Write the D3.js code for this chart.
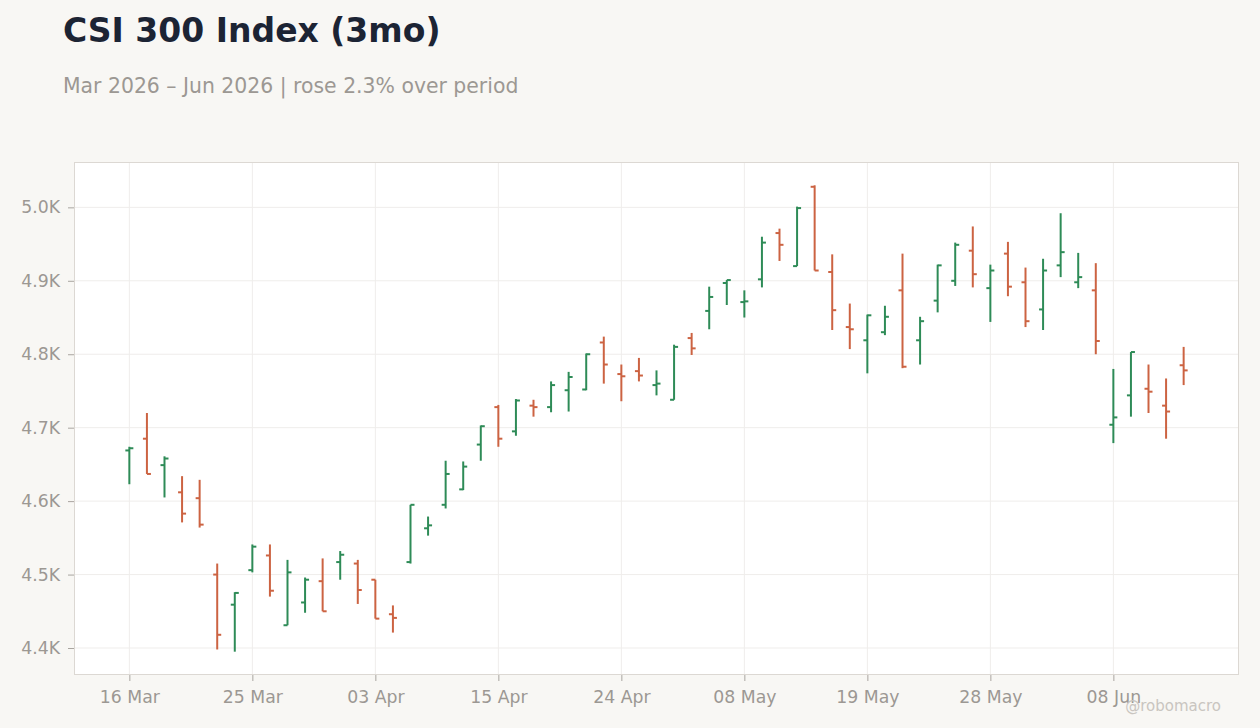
<!DOCTYPE html>
<html><head><meta charset="utf-8">
<script src="https://cdn.jsdelivr.net/npm/d3@7"></script>
<style>
html,body{margin:0;padding:0;background:#f8f7f4;}
svg{display:block;font-family:"DejaVu Sans",sans-serif;}
</style></head>
<body>
<svg id="chart" width="1260" height="728"></svg>
<script>
const dates = ["2026-03-16","2026-03-17","2026-03-18","2026-03-19","2026-03-20","2026-03-23","2026-03-24","2026-03-25","2026-03-26","2026-03-27","2026-03-30","2026-03-31","2026-04-01","2026-04-02","2026-04-03","2026-04-07","2026-04-08","2026-04-09","2026-04-10","2026-04-13","2026-04-14","2026-04-15","2026-04-16","2026-04-17","2026-04-20","2026-04-21","2026-04-22","2026-04-23","2026-04-24","2026-04-27","2026-04-28","2026-04-29","2026-04-30","2026-05-06","2026-05-07","2026-05-08","2026-05-11","2026-05-12","2026-05-13","2026-05-14","2026-05-15","2026-05-18","2026-05-19","2026-05-20","2026-05-21","2026-05-22","2026-05-25","2026-05-26","2026-05-27","2026-05-28","2026-05-29","2026-06-01","2026-06-02","2026-06-03","2026-06-04","2026-06-05","2026-06-08","2026-06-09","2026-06-10","2026-06-11","2026-06-12"];
const openVals  = [4669,4685,4649,4612,4604,4500,4459,4506,4526,4431,4462,4491,4517,4515,4493,4446,4517,4563,4595,4616,4677,4728,4695,4730,4728,4751,4752,4816,4773,4777,4758,4738,4822,4859,4897,4871,4902,4965,4920,5028,4912,4837,4819,4830,4887,4819,4873,4900,4941,4890,4937,4898,4861,4921,4898,4887,4704,4744,4753,4730,4785];
const highVals  = [4674,4720,4661,4634,4629,4515,4476,4541,4541,4520,4496,4522,4532,4520,4493,4458,4595,4579,4655,4654,4703,4731,4739,4738,4763,4776,4801,4824,4786,4795,4778,4813,4829,4892,4901,4887,4960,4971,5001,5030,4936,4869,4854,4866,4937,4851,4922,4952,4974,4922,4953,4918,4930,4992,4938,4924,4780,4803,4786,4767,4810];
const lowVals   = [4623,4637,4605,4571,4564,4398,4395,4503,4470,4431,4448,4450,4493,4460,4440,4421,4515,4553,4590,4615,4655,4674,4689,4715,4721,4722,4751,4760,4736,4763,4744,4738,4799,4834,4867,4850,4891,4927,4920,4914,4833,4807,4774,4826,4781,4786,4857,4893,4891,4844,4879,4837,4833,4905,4890,4800,4679,4715,4720,4685,4758];
const closeVals = [4672,4637,4658,4583,4568,4418,4475,4538,4478,4503,4493,4450,4527,4479,4440,4441,4595,4567,4637,4647,4702,4685,4737,4728,4758,4769,4800,4786,4770,4771,4760,4810,4808,4878,4901,4872,4952,4949,4999,4914,4860,4834,4853,4851,4783,4845,4921,4949,4909,4914,4892,4845,4914,4939,4905,4818,4714,4803,4749,4722,4778];
const yTicks = [4400,4500,4600,4700,4800,4900,5000];
const titleText = "CSI 300 Index (3mo)";
const subtitleText = "Mar 2026 \u2013 Jun 2026 | rose 2.3% over period";
const credit = "@robomacro";

const parse = d3.timeParse("%Y-%m-%d");
const fmt = d3.timeFormat("%d %b");
const data = dates.map((d,i)=>({date:d, o:openVals[i], h:highVals[i], l:lowVals[i], c:closeVals[i]}));

const svg = d3.select("#chart");
const W=1260,H=728;
const m = {left:74, right:1239, top:162, bottom:675};
const UP="#2e8b57", DOWN="#cc6342";

svg.append("rect").attr("width",W).attr("height",H).attr("fill","#f8f7f4");

svg.append("text").attr("x",63).attr("y",42).attr("font-size",33).attr("font-weight","bold")
  .attr("fill","#1c2434").text(titleText);
svg.append("text").attr("x",63).attr("y",93).attr("font-size",20.4).attr("fill","#9c9893").text(subtitleText);

const x = d3.scalePoint().domain(dates).range([m.left,m.right]).padding(3.15);
const minL = d3.min(lowVals), maxH = d3.max(highVals), pad=(maxH-minL)*0.05;
const y = d3.scaleLinear().domain([minL-pad, maxH+pad]).range([m.bottom,m.top]);

svg.append("rect").attr("x",m.left).attr("y",m.top).attr("width",m.right-m.left).attr("height",m.bottom-m.top)
  .attr("fill","#ffffff");

const xTickDates = dates.filter((d,i)=>i%7===0);

const grid = svg.append("g");
grid.selectAll(".gy").data(yTicks).join("line")
  .attr("x1",m.left).attr("x2",m.right).attr("y1",d=>y(d)).attr("y2",d=>y(d))
  .attr("stroke","#efedeb").attr("stroke-width",1);
grid.selectAll(".gx").data(xTickDates).join("line")
  .attr("x1",d=>x(d)).attr("x2",d=>x(d)).attr("y1",m.top).attr("y2",m.bottom)
  .attr("stroke","#efedeb").attr("stroke-width",1);

svg.append("rect").attr("x",m.left+0.5).attr("y",m.top+0.5).attr("width",m.right-m.left-1).attr("height",m.bottom-m.top-1)
  .attr("fill","none").attr("stroke","#dcd8d3").attr("stroke-width",1);

const yAxis = svg.append("g").attr("transform",`translate(${m.left},0)`)
  .call(d3.axisLeft(y).tickValues(yTicks).tickSize(6).tickPadding(8).tickFormat(d=>(d/1000).toFixed(1)+"K"));
const xAxis = svg.append("g").attr("transform",`translate(0,${m.bottom})`)
  .call(d3.axisBottom(x).tickValues(xTickDates).tickSize(6).tickPadding(10).tickFormat(d=>fmt(parse(d))));
[yAxis,xAxis].forEach(a=>{
  a.select(".domain").remove();
  a.selectAll(".tick line").attr("stroke","#a9a5a0");
  a.selectAll(".tick text").attr("fill","#9c9893").attr("font-size",17.3).attr("font-family","DejaVu Sans, sans-serif");
});

const bars = svg.append("g").selectAll("g").data(data).join("g")
  .attr("stroke",d=>d.c>=d.o?UP:DOWN).attr("stroke-width",2);
bars.append("line").attr("x1",d=>x(d.date)).attr("x2",d=>x(d.date)).attr("y1",d=>y(d.h)).attr("y2",d=>y(d.l));
bars.append("line").attr("x1",d=>x(d.date)-4).attr("x2",d=>x(d.date)).attr("y1",d=>y(d.o)).attr("y2",d=>y(d.o));
bars.append("line").attr("x1",d=>x(d.date)).attr("x2",d=>x(d.date)+4).attr("y1",d=>y(d.c)).attr("y2",d=>y(d.c));

svg.append("text").attr("x",1221).attr("y",711).attr("text-anchor","end").attr("font-size",15)
  .attr("fill","#c9c5c0").text(credit);
</script>
</body></html>
